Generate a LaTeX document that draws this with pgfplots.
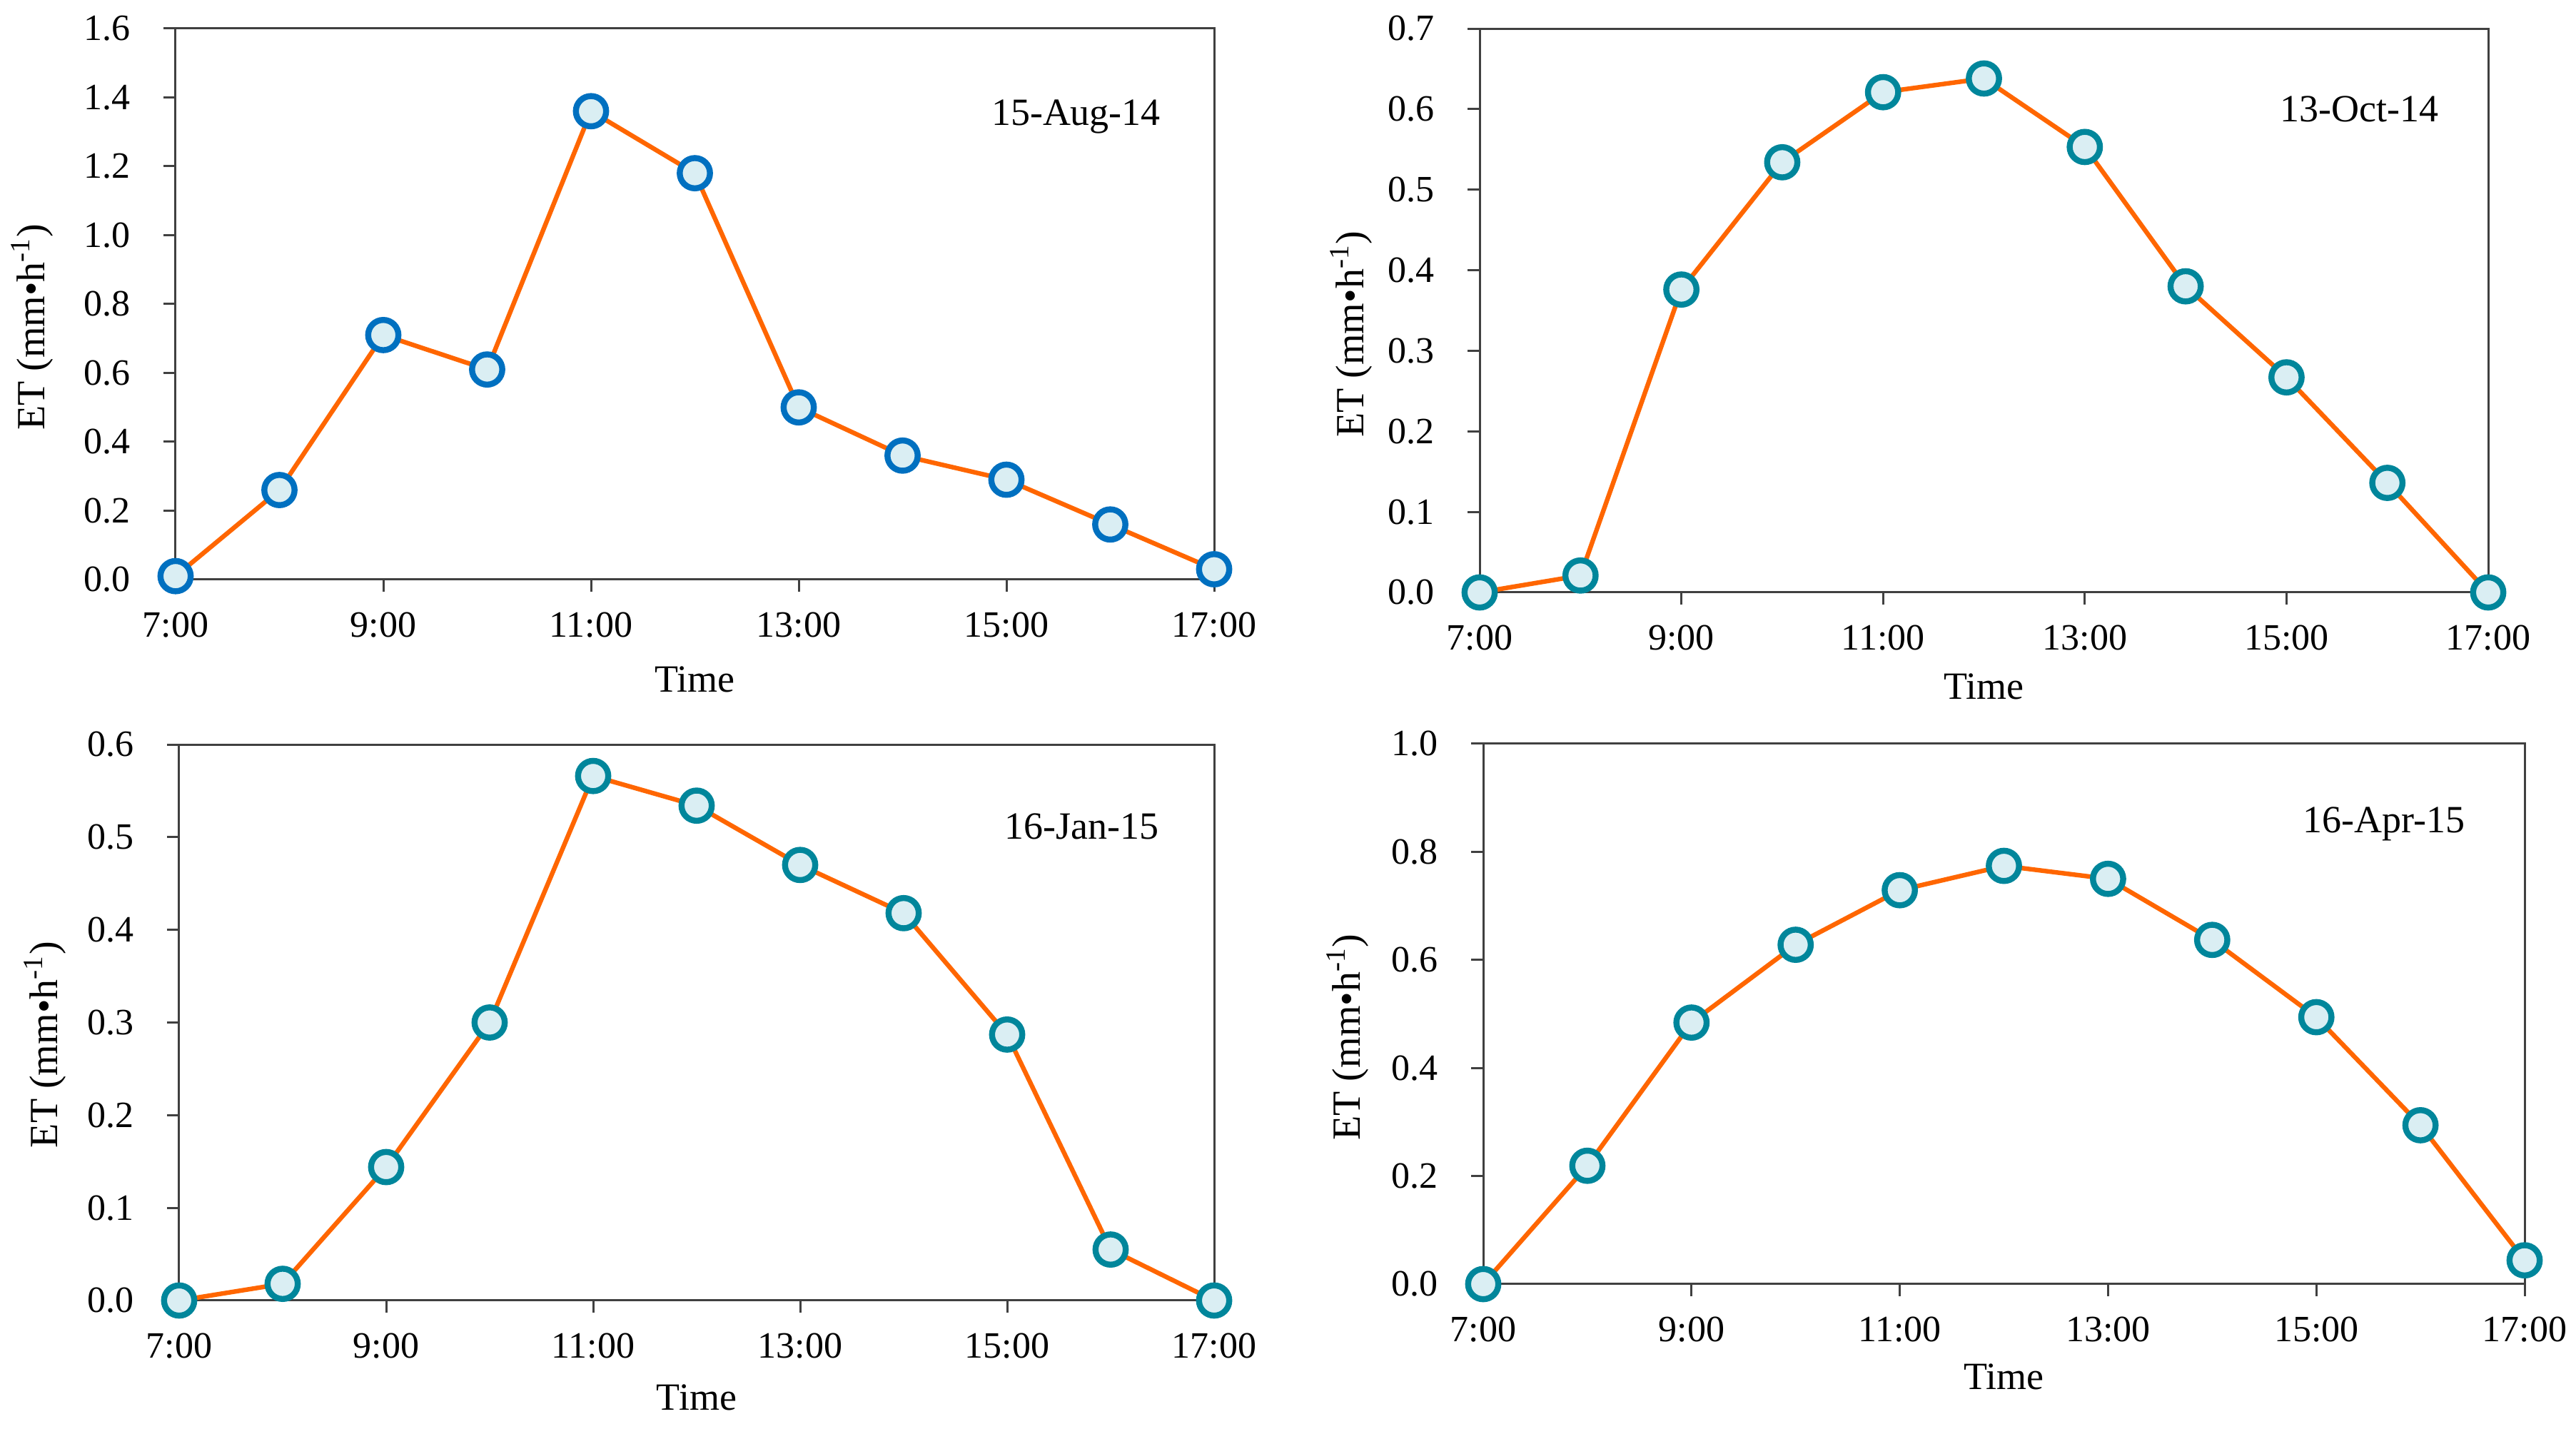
\documentclass[border=0pt]{standalone}
\usepackage{fontspec}
\setmainfont{Liberation Serif}
\usepackage{pgfplots}
\pgfplotsset{compat=1.18}
\definecolor{lineor}{HTML}{FF6600}
\definecolor{mkblue}{HTML}{0070C0}
\definecolor{mkteal}{HTML}{00869B}
\definecolor{mkfill}{HTML}{DAEEF3}
\definecolor{axgray}{HTML}{404040}

\tikzset{datelab/.style={font=\fontsize{13.5}{15}\selectfont, anchor=base}}

\pgfplotsset{
  etstyle/.style={
    scale only axis,
    clip=false,
    anchor=south west,
    xmin=7, xmax=17, ymin=0,
    xtick={7,9,11,13,15,17},
    xticklabels={7:00,9:00,11:00,13:00,15:00,17:00},
    tick align=outside,
    tick pos=left,
    major tick length=4.2pt,
    tick style={axgray, line width=0.75pt},
    axis line style={axgray, line width=0.75pt},
    /pgf/number format/assume math mode=true,
    ticklabel style={font=\fontsize{13}{15}\selectfont},
    yticklabel style={/pgf/number format/fixed, /pgf/number format/fixed zerofill, /pgf/number format/precision=1, xshift=-8.2pt},
    xticklabel style={yshift=-3.7pt},
    xlabel style={font=\fontsize{13.5}{15}\selectfont},
    ylabel style={font=\fontsize{14}{16}\selectfont},
    xlabel={Time},
    ylabel={ET (mm•h\textsuperscript{-1})},
    scaled y ticks=false,
  },
  etline/.style={color=lineor, line width=1.6pt, mark=*, mark size=5.3pt,
    mark options={draw=#1, fill=mkfill, line width=2.1pt, solid}},
}

\begin{document}
\begin{tikzpicture}
\path[use as bounding box] (0,0) rectangle (902.25pt,500.5pt);

% Panel 1
\begin{axis}[etstyle,
  at={(61.5pt,297.5pt)}, width=363.75pt, height=193pt,
  ymax=1.6, ytick={0,0.2,0.4,0.6,0.8,1.0,1.2,1.4,1.6},
  ylabel style={at={([xshift=-50.25pt]axis description cs:0,0.458)}, anchor=center},
  xlabel style={at={([yshift=-35pt]axis description cs:0.5,0)}, anchor=center}]
\addplot[etline=mkblue] coordinates {
(7,0.01) (8,0.26) (9,0.71) (10,0.61) (11,1.36) (12,1.18) (13,0.50) (14,0.36) (15,0.29) (16,0.16) (17,0.03)};
\node[datelab] at (rel axis cs:0.867,0.825) {15-Aug-14};
\end{axis}

% Panel 2
\begin{axis}[etstyle,
  at={(518.25pt,293pt)}, width=353.25pt, height=197.5pt,
  ymax=0.7, ytick={0,0.1,0.2,0.3,0.4,0.5,0.6,0.7},
  ylabel style={at={([xshift=-45pt]axis description cs:0,0.458)}, anchor=center},
  xlabel style={at={([yshift=-33pt]axis description cs:0.5,0)}, anchor=center}]
\addplot[etline=mkteal] coordinates {
(7,0.0) (8,0.021) (9,0.376) (10,0.534) (11,0.621) (12,0.638) (13,0.553) (14,0.380) (15,0.267) (16,0.136) (17,0.0)};
\node[datelab] at (rel axis cs:0.872,0.835) {13-Oct-14};
\end{axis}

% Panel 3
\begin{axis}[etstyle,
  at={(62.75pt,45pt)}, width=362.5pt, height=194.75pt,
  ymax=0.6, ytick={0,0.1,0.2,0.3,0.4,0.5,0.6},
  ylabel style={at={([xshift=-47pt]axis description cs:0,0.46)}, anchor=center},
  xlabel style={at={([yshift=-34pt]axis description cs:0.5,0)}, anchor=center}]
\addplot[etline=mkteal] coordinates {
(7,0.0) (8,0.018) (9,0.144) (10,0.300) (11,0.566) (12,0.534) (13,0.470) (14,0.418) (15,0.287) (16,0.055) (17,0.0)};
\node[datelab] at (rel axis cs:0.872,0.83) {16-Jan-15};
\end{axis}

% Panel 4
\begin{axis}[etstyle,
  at={(519.5pt,50.75pt)}, width=364.75pt, height=189.25pt,
  ymax=1.0, ytick={0,0.2,0.4,0.6,0.8,1.0},
  ylabel style={at={([xshift=-47.5pt]axis description cs:0,0.457)}, anchor=center},
  xlabel style={at={([yshift=-32.5pt]axis description cs:0.5,0)}, anchor=center}]
\addplot[etline=mkteal] coordinates {
(7,0.0) (8,0.219) (9,0.484) (10,0.628) (11,0.729) (12,0.774) (13,0.750) (14,0.637) (15,0.494) (16,0.294) (17,0.044)};
\node[datelab] at (rel axis cs:0.865,0.836) {16-Apr-15};
\end{axis}
\end{tikzpicture}
\end{document}
